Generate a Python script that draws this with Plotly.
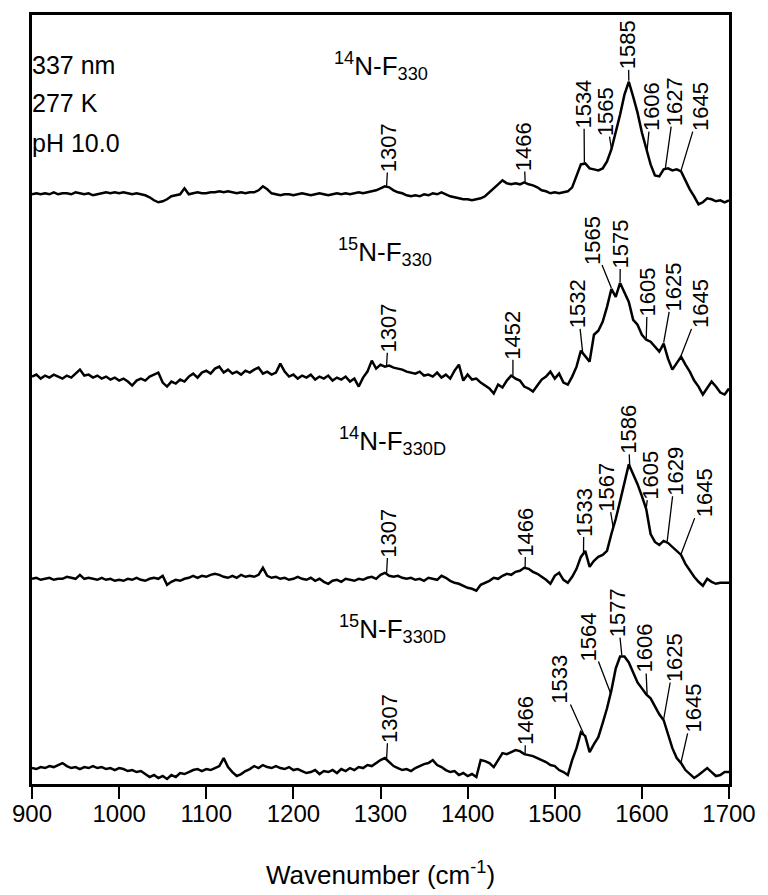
import numpy as np
import plotly.graph_objects as go

# ---------------- data ----------------
wavenumber = list(range(900, 1701, 5))

n14_f330 = [
    0, 1, 0, 1, 0, 2, 0, 1, 1, 0,
    2, 1, 0, 1, -1, 0, 1, 2, 1, 2,
    1, 2, 1, 0, 1, 0, -1, -3, -6, -8,
    -7, -5, -2, -1, 0, 6, 0, 1, 2, 1,
    1, 2, 2, 3, 2, 3, 2, 1, 2, 1,
    2, 2, 4, 8, 5, 1, 0, -1, 0, 0,
    -1, 0, 1, 0, -1, 0, 1, 0, -1, 0,
    1, 0, 1, 0, 1, 2, 1, 2, 3, 4,
    6, 8, 7, 4, 2, 1, -1, -2, -1, -2,
    0, -1, 1, 0, 2, 0, -2, -3, -4, -5,
    -5, -6, -5, -4, -2, 2, 5, 10, 14, 11,
    10, 11, 10, 12, 10, 9, 7, 4, 3, 1,
    2, 1, 2, 3, 7, 18, 30, 31, 26, 25,
    24, 26, 33, 45, 62, 80, 100, 113, 98, 82,
    62, 47, 30, 19, 18, 25, 26, 24, 25, 23,
    14, 5, -2, -10, -8, -4, -5, -7, -6, -8,
    -6]

n15_f330 = [
    0, 2, -2, 1, -1, 2, 0, -2, 1, -1,
    3, 7, 1, 2, -1, 1, -2, 0, -3, -1,
    -4, -2, -5, -9, -4, -2, -4, 0, 2, 4,
    -6, -10, -5, -7, -3, -5, 0, 3, -1, 4,
    6, 3, 8, 10, 4, 7, 3, 5, 2, 6,
    4, 7, 9, 3, 5, 2, 4, 13, 5, 0,
    2, -2, 1, -1, 2, -3, 0, -2, 1, -4,
    -1, -3, 0, -5, -2, -10, -1, 5, 16, 8,
    12, 10, 11, 9, 8, 7, 5, 4, 3, 5,
    1, 2, 0, 4, -1, 2, -2, 6, 12, -4,
    2, -3, -2, -6, -9, -12, -17, -8, -11, -4,
    1, -2, -4, -10, -12, -15, -9, -3, 0, 5,
    -2, 3, -6, -8, 0, 10, 26, 20, 15, 42,
    46, 55, 70, 88, 80, 94, 85, 75, 57, 52,
    42, 37, 35, 30, 25, 33, 18, 7, 14, 20,
    12, 5, -4, -10, -18, -12, -5, -10, -16, -18,
    -12]

n14_f330d = [
    0, 1, -1, 0, 1, -1, 0, 0, 2, 1,
    0, 4, 0, 1, 0, -1, 1, -1, 0, -2,
    -1, -2, 0, -1, 1, -1, -2, 0, 1, 0,
    3, -6, -3, -1, -2, 0, 1, 3, 1, 3,
    2, 4, 5, 4, 2, 1, 3, 1, 4, 2,
    3, 2, 4, 11, 3, 1, 2, 0, 1, -1,
    0, 2, 0, -1, 1, -2, 0, -3, -5, -2,
    -1, -3, 0, -1, -2, 0, -1, 1, 2, 0,
    4, 6, 3, 2, 3, 1, 0, 1, -1, 0,
    -2, 1, 0, -1, 3, 1, -2, -4, -5, -7,
    -9, -10, -12, -6, -4, -2, 1, 0, 3, 5,
    4, 7, 8, 11, 10, 7, 5, 2, -1, -5,
    3, 6, -1, -4, 2, 10, 22, 28, 12, 18,
    22, 24, 28, 45, 60, 78, 96, 115, 105, 95,
    83, 70, 45, 37, 34, 38, 36, 32, 28, 24,
    15, 8, 2, -3, -7, 0, -3, -5, -4, -4,
    -4]

n15_f330d = [
    0, -1, 1, 0, 2, 1, 3, 5, 2, 0,
    1, -1, 1, 0, 2, 0, 1, -1, 0, -2,
    0, -1, -3, -2, -4, -3, -6, -9, -7, -10,
    -8, -11, -7, -9, -5, -6, -4, -2, -1, -3,
    -1, -2, 0, 2, 10, 1, -4, -8, -6, -3,
    -1, 2, 0, 3, 1, 0, 2, 0, -1, 1,
    -2, -1, -3, -5, -4, -2, -6, -3, -4, -2,
    -5, -1, -3, 0, -2, 1, 0, 3, 2, 5,
    8, 10, 6, 2, 0, -2, -1, -3, 0, 2,
    4, 5, 8, 3, 1, -2, -4, -3, -7, -5,
    -8, -6, -9, 8, 7, 5, 1, 8, 15, 14,
    16, 18, 17, 14, 13, 12, 10, 8, 6, 3,
    2, -2, -4, -7, 8, 20, 36, 32, 16, 24,
    31, 45, 60, 78, 100, 112, 112, 106, 96, 86,
    80, 74, 70, 62, 54, 48, 35, 20, 10, 5,
    -2, -6, -10, -7, -3, 0, -4, -8, -7, -4,
    -4]

series_names = ["<sup>14</sup>N-F<sub>330</sub>",
                "<sup>15</sup>N-F<sub>330</sub>",
                "<sup>14</sup>N-F<sub>330D</sub>",
                "<sup>15</sup>N-F<sub>330D</sub>"]
series_values = [n14_f330, n15_f330, n14_f330d, n15_f330d]
series_offsets = [592, 409, 206, 16]

peak_labels = [
    [1307, 1466, 1534, 1565, 1585, 1606, 1627, 1645],
    [1307, 1452, 1532, 1565, 1575, 1605, 1625, 1645],
    [1307, 1466, 1533, 1567, 1586, 1605, 1629, 1645],
    [1307, 1466, 1533, 1564, 1577, 1606, 1625, 1645],
]

tick_values = [900, 1000, 1100, 1200, 1300, 1400, 1500, 1600, 1700]
condition_texts = ["337 nm", "277 K", "pH 10.0"]

# ---------------- label placement (layout) ----------------
label_x = [
    [1309.5, 1464.5, 1533.5, 1558.4, 1584.4, 1611.0, 1637.6, 1667.0],
    [1309.5, 1452.0, 1526.0, 1542.5, 1575.3, 1606.5, 1636.4, 1668.1],
    [1309.5, 1466.7, 1533.5, 1559.5, 1584.4, 1610.0, 1638.7, 1671.5],
    [1309.5, 1466.7, 1505.2, 1539.1, 1572.0, 1603.6, 1637.6, 1659.0],
]
label_y = [
    [639, 640, 683, 675, 742, 680, 685, 680],
    [458, 451, 482, 546, 542, 494, 499, 482],
    [252, 253, 273, 298, 356, 310, 314, 292],
    [66, 64, 105, 148, 172, 136, 127, 76],
]
name_x = [1244, 1248.4, 1249.5, 1249.5]
name_y = [721, 534, 344, 156]
cond_y = [722, 684, 644]

FONT = "Liberation Sans, Arial, sans-serif"

fig = go.Figure()
for vals, off in zip(series_values, series_offsets):
    fig.add_trace(go.Scatter(
        x=wavenumber, y=[v + off for v in vals], mode="lines",
        line=dict(color="black", width=2.5), hoverinfo="skip"))

annotations = []
wn_arr = np.array(wavenumber, dtype=float)
for s, (vals, off) in enumerate(zip(series_values, series_offsets)):
    arr = np.array(vals, dtype=float) + off
    for k, pk in enumerate(peak_labels[s]):
        py = float(np.interp(pk, wn_arr, arr)) + 1
        annotations.append(dict(
            x=pk, y=py, xref="x", yref="y",
            ax=label_x[s][k], ay=label_y[s][k], axref="x", ayref="y",
            text=str(pk), textangle=-90, showarrow=True, arrowhead=0,
            arrowwidth=1.3, arrowcolor="black", standoff=0,
            borderpad=0,
            font=dict(size=22, color="black", family=FONT)))
    annotations.append(dict(
        x=name_x[s], y=name_y[s], xref="x", yref="y", text=series_names[s],
        showarrow=False, xanchor="left", yanchor="middle",
        font=dict(size=26, color="black", family=FONT)))

for t, yy in zip(condition_texts, cond_y):
    annotations.append(dict(
        x=-0.003, y=yy, xref="paper", yref="y", text=t, showarrow=False,
        xanchor="left", yanchor="middle",
        font=dict(size=25, color="black", family=FONT)))

annotations.append(dict(
    x=0.5, y=-0.117, xref="paper", yref="paper",
    text="Wavenumber (cm<sup>-1</sup>)", showarrow=False,
    xanchor="center", yanchor="middle",
    font=dict(size=26, color="black", family=FONT)))

fig.update_layout(
    width=768, height=895,
    margin=dict(l=29, r=32, t=12, b=111),
    plot_bgcolor="white", paper_bgcolor="white",
    showlegend=False,
    font=dict(family=FONT, color="black"),
    annotations=annotations,
    xaxis=dict(range=[900, 1700], tickvals=tick_values,
               ticktext=[str(v) for v in tick_values],
               ticks="outside", ticklen=12, tickwidth=2, tickcolor="black",
               ticklabelstandoff=-6,
               showline=True, linewidth=2.5, linecolor="black", mirror=True,
               showgrid=False, zeroline=False,
               tickfont=dict(size=24, color="black", family=FONT)),
    yaxis=dict(range=[0, 772], showticklabels=False, ticks="",
               showline=True, linewidth=2.5, linecolor="black", mirror=True,
               showgrid=False, zeroline=False),
)

fig.write_html("out.html")
